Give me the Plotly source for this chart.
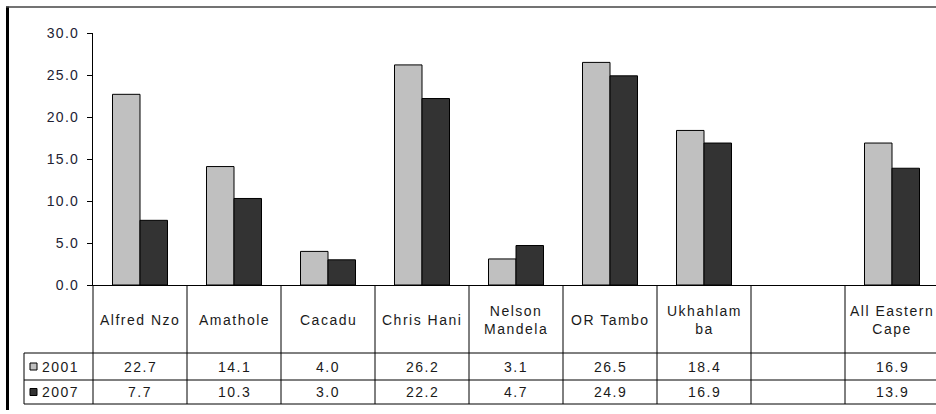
import plotly.graph_objects as go

categories = ["Alfred Nzo", "Amathole", "Cacadu", "Chris Hani", "Nelson\nMandela",
              "OR Tambo", "Ukhahlam\nba", "", "All Eastern\nCape"]
series_names = ["2001", "2007"]
v2001 = [22.7, 14.1, 4.0, 26.2, 3.1, 26.5, 18.4, None, 16.9]
v2007 = [7.7, 10.3, 3.0, 22.2, 4.7, 24.9, 16.9, None, 13.9]
y_ticks = [0, 5, 10, 15, 20, 25, 30]

colors = ["#C0C0C0", "#333333"]
FONT = "Liberation Sans, Arial, sans-serif"
TXT = "#1a1a1a"
W, H = 936, 414
AX_X, Y30, Y0 = 93, 33, 285
ML, MT = AX_X, Y30
MB = H - Y0
PW, PH = W - ML, H - MT - MB
CAT_PX = 94.0
xr = [-0.5, -0.5 + PW / CAT_PX]


def sp(t, ls=1.6):
    return "<br>".join('<span style="letter-spacing:%spx">%s</span>' % (ls, l) if l else ""
                       for l in t.split("\n"))


def px_x(p):
    return (p - ML) / PW


def px_y(p):
    return (MT + PH - p) / PH


def cx(c):
    return (c - xr[0]) / (xr[1] - xr[0])


xs = list(range(len(categories)))
fig = go.Figure()
for name, vals, col in zip(series_names, [v2001, v2007], colors):
    fig.add_trace(go.Bar(x=xs, y=vals, name=name, marker=dict(color=col, line=dict(color="black", width=1)),
                         showlegend=False, hoverinfo="skip"))

shapes = []
annotations = []
line = dict(color="black", width=1)

y_head_top, y_head_bot, y_r1, y_r2 = 285, 353, 380, 404
leg_left = 24
for yy in [y_head_bot, y_r1, y_r2]:
    shapes.append(dict(type="line", xref="paper", yref="paper", x0=px_x(leg_left), x1=1.02,
                       y0=px_y(yy), y1=px_y(yy), line=line))
shapes.append(dict(type="line", xref="paper", yref="paper", x0=px_x(leg_left), x1=px_x(leg_left),
                   y0=px_y(y_head_bot), y1=px_y(y_r2), line=line))
for c in range(len(categories) + 1):
    xb = cx(c - 0.5)
    if xb > 1.01:
        continue
    shapes.append(dict(type="line", xref="paper", yref="paper", x0=xb, x1=xb,
                       y0=0, y1=px_y(y_r2), line=line))

for i, cat in enumerate(categories):
    if cat:
        annotations.append(dict(x=i, xref="x", y=px_y((y_head_top + y_head_bot) / 2 + 1), yref="paper",
                                text=sp(cat, 1.5), showarrow=False, xanchor="center", yanchor="middle",
                                font=dict(family=FONT, size=14, color=TXT)))
for vals, ytop, ybot in [(v2001, y_head_bot, y_r1), (v2007, y_r1, y_r2)]:
    for i, v in enumerate(vals):
        if v is None:
            continue
        annotations.append(dict(x=i, xref="x", y=px_y((ytop + ybot) / 2), yref="paper",
                                text=sp(f"{v:.1f}", 1.5), showarrow=False, xanchor="center", yanchor="middle",
                                font=dict(family=FONT, size=14, color=TXT)))
for name, col, ytop, ybot in [(series_names[0], colors[0], y_head_bot, y_r1),
                              (series_names[1], colors[1], y_r1, y_r2)]:
    yc = (ytop + ybot) / 2
    shapes.append(dict(type="rect", xref="paper", yref="paper", x0=px_x(30), x1=px_x(37),
                       y0=px_y(yc + 3.5), y1=px_y(yc - 3.5), fillcolor=col, line=line))
    annotations.append(dict(x=px_x(40), xref="paper", y=px_y(yc), yref="paper", text=sp(name, 1.5),
                            showarrow=False, xanchor="left", yanchor="middle",
                            font=dict(family=FONT, size=14, color=TXT)))

# outer frame
shapes.append(dict(type="line", xref="paper", yref="paper", x0=px_x(7.5), x1=px_x(7.5),
                   y0=px_y(6.5), y1=px_y(410), line=dict(color="black", width=3)))
shapes.append(dict(type="line", xref="paper", yref="paper", x0=px_x(6), x1=1.02,
                   y0=px_y(7), y1=px_y(7), line=dict(color="#444444", width=1.5)))

fig.update_layout(
    width=W, height=H, margin=dict(l=ML, r=0, t=MT, b=MB),
    paper_bgcolor="white", plot_bgcolor="white",
    barmode="group", bargap=0.415, bargroupgap=0,
    shapes=shapes, annotations=annotations,
    xaxis=dict(range=xr, showticklabels=False, ticks="", showgrid=False, zeroline=False,
               showline=True, linecolor="black", linewidth=1),
    yaxis=dict(range=[0, 30], tickvals=y_ticks, ticktext=[sp(f"{t:.1f}", 1.3) for t in y_ticks],
               ticks="outside", ticklen=5, tickcolor="black", showgrid=False, zeroline=False,
               showline=True, linecolor="black", linewidth=1, ticklabelstandoff=5,
               tickfont=dict(family=FONT, size=14, color="#222233")),
    font=dict(family=FONT),
)
fig.write_html("out.html", config={"displayModeBar": False},
               post_script="document.body.style.margin='0';document.body.style.overflow='hidden';")
